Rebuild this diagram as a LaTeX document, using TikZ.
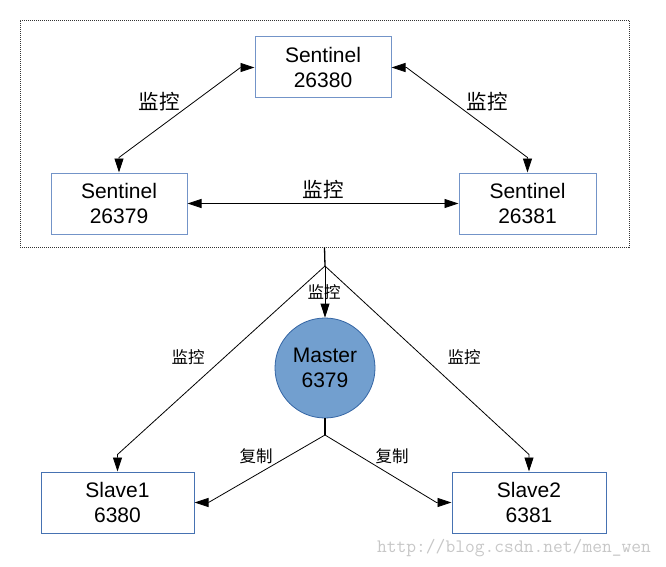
\documentclass[tikz,border=0pt]{standalone}
\usepackage{fontspec}
\setmainfont{Liberation Sans}
\newfontfamily\cjk{Noto Sans CJK SC}
\usetikzlibrary{arrows.meta,calc}
\definecolor{boxline}{HTML}{7394C8}
\definecolor{slaveline}{HTML}{4672B2}
\definecolor{mfill}{HTML}{729FCF}
\definecolor{mline}{HTML}{3465A4}
\begin{document}
\begin{tikzpicture}[x=1pt,y=-1pt,
  box/.style={draw=boxline,line width=1pt,minimum width=136pt,minimum height=61pt,align=center,inner sep=0pt,font=\fontsize{21}{25}\selectfont},
  slavebox/.style={box,draw=slaveline,minimum width=153pt},
  masternode/.style={circle,draw=mline,fill=mfill,line width=0.8pt,minimum size=100pt,align=center,inner sep=0pt,font=\fontsize{21}{25}\selectfont},
  frame/.style={draw=black!80,line width=0.6pt,dash pattern=on 1pt off 1pt,minimum width=609pt,minimum height=227pt,inner sep=0pt},
  conn/.style={line width=0.8pt,black},
  thick conn/.style={line width=1.3pt,black},
  tip/.tip={Triangle[length=14pt,width=9pt]},
  arr/.style={conn,-tip},
  darr/.style={conn,tip-tip},
  biglab/.style={inner sep=0pt,font=\cjk\fontsize{20.5}{24}\selectfont},
  smalllab/.style={inner sep=0pt,font=\cjk\fontsize{16.5}{19}\selectfont},
  wm/.style={inner sep=0pt,text=black!22,font=\ttfamily\fontsize{19}{22}\selectfont}
]
\useasboundingbox (0,0) rectangle (666,567);

\node[frame] (frame) at (324.5,133.5) {};

\node[box] (s0) at (323,67.5) {Sentinel\\26380};
\node[box] (s1) at (119,203.5) {Sentinel\\26379};
\node[box,minimum width=137pt] (s2) at (527.5,203.5) {Sentinel\\26381};

\node[masternode] (m) at (325,368) {Master\\6379};

\node[slavebox] (sl1) at (117.5,502.5) {Slave1\\6380};
\node[slavebox,minimum width=154pt] (sl2) at (529,502.5) {Slave2\\6381};

\coordinate (b1) at (325,266);
\coordinate (b2) at (325,435);

% sentinel connections
\draw[darr] (s0.west) -- ++(-14,0) -- ($(s1.north)+(0,-15)$) -- (s1.north);
\draw[darr] (s0.east) -- ++(15,0) -- ($(s2.north)+(0,-15)$) -- (s2.north);
\draw[darr] (s1.east) -- (s2.west);

% monitoring of master and slaves
\draw[thick conn] (frame.south) -- (b1);
\draw[arr] (b1) -- (m.north);
\draw[arr] (b1) -- ($(sl1.north)+(0,-17)$) -- (sl1.north);
\draw[arr] (b1) -- ($(sl2.north)+(0,-17)$) -- (sl2.north);

% replication
\draw[thick conn] (m.south) -- (b2);
\draw[arr] (b2) -- ($(sl1.east)+(14,0)$) -- (sl1.east);
\draw[arr] (b2) -- ($(sl2.west)+(-15,0)$) -- (sl2.west);

% labels
\node[biglab] (l1) at (159,102) {监控};
\node[biglab] (l2) at (487,102) {监控};
\node[biglab] (l3) at (323,190) {监控};
\node[smalllab] (l4) at (324,292) {监控};
\node[smalllab] (l5) at (188,357) {监控};
\node[smalllab] (l6) at (464,357) {监控};
\node[smalllab] (l7) at (256,456) {复制};
\node[smalllab] (l8) at (392,456) {复制};

\node[wm] (wm) at (514,548) {http://blog.csdn.net/men\_wen};
\end{tikzpicture}
\end{document}
